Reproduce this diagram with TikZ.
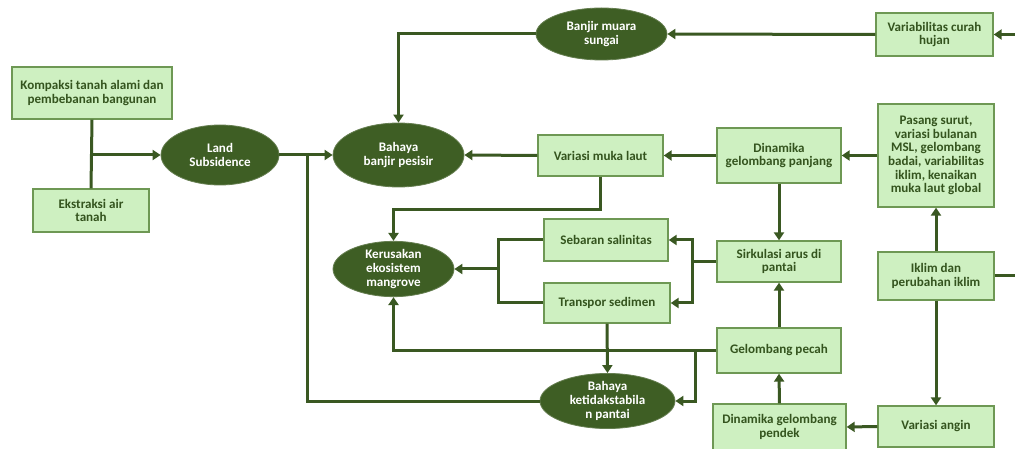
\documentclass[tikz,border=0pt]{standalone}
\usepackage{fontspec}
\setmainfont{Carlito}
\usetikzlibrary{arrows.meta,shapes.geometric}
\definecolor{boxfill}{RGB}{206,240,193}
\definecolor{boxline}{RGB}{110,152,84}
\definecolor{lc}{RGB}{58,88,34}
\definecolor{ellfill}{RGB}{62,94,36}
\definecolor{txt}{RGB}{52,84,30}
\tikzset{
  gbox/.style={draw=boxline, line width=1pt, fill=boxfill, align=center, inner sep=1pt,
    font=\fontsize{9.8}{10.2}\selectfont\bfseries, text=txt},
  gell/.style={ellipse, fill=ellfill, draw=ellfill!80!white, line width=0.6pt, align=center, inner sep=0pt,
    font=\fontsize{9.8}{10.4}\selectfont\bfseries, text=white},
  ln/.style={draw=lc, line width=2.25pt},
  arr/.style={ln, -{Triangle[length=6pt,width=7.5pt]}},
}
\begin{document}
\begin{tikzpicture}[x=0.75pt,y=-0.75pt]
\useasboundingbox (0,0) rectangle (1015,449);
% boxes
\node[gbox, minimum width=120pt, minimum height=39pt] (komp) at (92,93) {Kompaksi tanah alami dan\\pembebanan bangunan};
\node[gbox, minimum width=87pt, minimum height=32.25pt] (ekst) at (91,210.5) {Ekstraksi air\\tanah};
\node[gbox, minimum width=87.75pt, minimum height=32.25pt] (vch) at (934.5,34.5) {Variabilitas curah\\hujan};
\node[gbox, minimum width=87pt, minimum height=77.25pt] (pas) at (936,155.5) {Pasang surut,\\variasi bulanan\\MSL, gelombang\\badai, variabilitas\\iklim, kenaikan\\muka laut global};
\node[gbox, minimum width=93pt, minimum height=41.25pt] (dgp) at (779,155.5) {Dinamika\\gelombang panjang};
\node[gbox, minimum width=93.75pt, minimum height=30.75pt] (vml) at (600.5,155.5) {Variasi muka laut};
\node[gbox, minimum width=93pt, minimum height=31.5pt] (seb) at (606,240) {Sebaran salinitas};
\node[gbox, minimum width=94.5pt, minimum height=30pt] (tra) at (607,303) {Transpor sedimen};
\node[gbox, minimum width=93pt, minimum height=30.75pt] (sir) at (779,261.5) {Sirkulasi arus di\\pantai};
\node[gbox, minimum width=87pt, minimum height=36pt] (ikl) at (936,276) {Iklim dan\\perubahan iklim};
\node[gbox, minimum width=93pt, minimum height=33.75pt] (gp) at (779,350.5) {Gelombang pecah};
\node[gbox, minimum width=99.75pt, minimum height=34.5pt] (dgs) at (779.5,427) {Dinamika gelombang\\pendek};
\node[gbox, minimum width=87pt, minimum height=30.75pt] (va) at (936,426.5) {Variasi angin};
% ellipses
\node[gell, minimum width=98.25pt, minimum height=39pt] (bms) at (601.5,34) {Banjir muara\\sungai};
\node[gell, minimum width=88.5pt, minimum height=45pt] (land) at (220,155) {Land\\Subsidence};
\node[gell, minimum width=98.25pt, minimum height=48pt] (bbp) at (398.5,155) {Bahaya\\banjir pesisir};
\node[gell, minimum width=90.75pt, minimum height=39pt] (ker) at (393.5,269) {Kerusakan\\ekosistem\\mangrove};
\node[gell, minimum width=101.25pt, minimum height=39pt] (bkp) at (607.5,401) {Bahaya\\ketidakstabila\\n pantai};
% junction coordinates
\coordinate (j1) at (307,155);
\coordinate (j2) at (692,261.5);
\coordinate (j3) at (498,269);
\coordinate (j4) at (695,350.5);
\coordinate (rx) at (1019,0);
% connectors
\draw[ln] (komp.south) -- (ekst.north);
\draw[arr] (komp.south |- land.west) -- (land.west);
\draw[arr] (land.east) -- (bbp.west);
\draw[ln] (bkp.west) -| (j1);
\draw[arr] (bms.west) -| (bbp.north);
\draw[arr] (vch.west) -- (bms.east);
\draw[arr] (ikl.east) -- (ikl.east -| rx) -- (vch.east -| rx) -- (vch.east);
\draw[arr] (vml.west) -- (bbp.east);
\draw[arr] (vml.south) -- ++(0,33) -| (ker.north);
\draw[arr] (dgp.west) -- (vml.east);
\draw[arr] (pas.west) -- (dgp.east);
\draw[arr] (dgp.south) -- (sir.north);
\draw[ln] (sir.west) -- (j2);
\draw[arr] (j2) |- (seb.east);
\draw[arr] (j2) |- (tra.east);
\draw[ln] (seb.west) -| (j3);
\draw[ln] (tra.west) -| (j3);
\draw[arr] (j3) -- (ker.east);
\draw[arr] (tra.south) -- (bkp.north);
\draw[arr] (gp.west) -| (ker.south);
\draw[arr] (j4) |- (bkp.east);
\draw[arr] (gp.north) -- (sir.south);
\draw[arr] (dgs.north) -- (gp.south);
\draw[arr] (va.west) -- (dgs.east);
\draw[arr] (ikl.north) -- (pas.south);
\draw[arr] (ikl.south) -- (va.north);
\end{tikzpicture}
\end{document}
